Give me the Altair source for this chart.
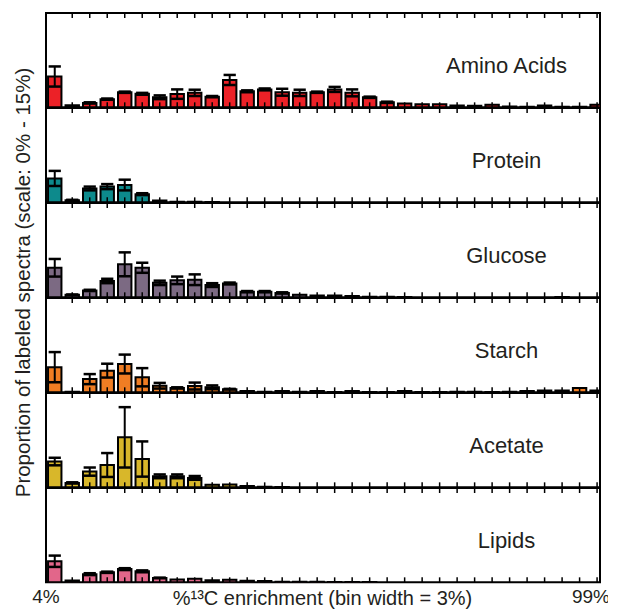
import altair as alt
import pandas as pd

# ---------------- data ----------------
panel_names = ["Amino Acids", "Protein", "Glucose", "Starch", "Acetate", "Lipids"]
panel_colors = ["#ec2127", "#0d8a8c", "#7c6a83", "#f07d23", "#d8b72a", "#e2668a"]

bin_starts = list(range(4, 100, 3))  # 32 bins of 3 %: 4-7 ... 97-100

amino_mean = [4.9, 0.35, 0.7, 1.3, 2.4, 2.15, 1.6, 2.1, 2.3, 1.7, 4.35, 2.55, 2.85, 2.4, 2.3, 2.4,
              2.85, 2.3, 1.6, 0.8, 0.6, 0.5, 0.5, 0.3, 0.25, 0.4, 0.15, 0.1, 0.3, 0.1, 0.1, 0.4]
amino_err = [1.6, 0.0, 0.1, 0.1, 0.1, 0.15, 0.3, 0.75, 0.5, 0.1, 0.8, 0.15, 0.15, 0.55, 0.5, 0.1,
             0.4, 0.55, 0.1, 0.1, 0, 0, 0, 0, 0, 0, 0, 0, 0, 0, 0, 0]

protein_mean = [3.8, 0.35, 2.2, 2.5, 2.75, 1.3, 0.3, 0.1, 0.1, 0.05, 0, 0, 0, 0, 0, 0,
                0, 0, 0, 0, 0, 0, 0, 0, 0, 0, 0, 0, 0, 0, 0, 0]
protein_err = [1.2, 0.05, 0.3, 0.4, 0.85, 0.15, 0, 0, 0, 0, 0, 0, 0, 0, 0, 0,
               0, 0, 0, 0, 0, 0, 0, 0, 0, 0, 0, 0, 0, 0, 0, 0]

glucose_mean = [4.7, 0.4, 1.1, 2.6, 5.25, 4.7, 2.3, 2.7, 2.8, 1.95, 2.2, 0.9, 0.9, 0.7, 0.4, 0.3,
                0.3, 0.2, 0.1, 0.1, 0.05, 0, 0, 0, 0, 0, 0, 0, 0, 0.05, 0, 0]
glucose_err = [1.4, 0.05, 0.1, 0.35, 1.9, 0.8, 0.35, 0.6, 0.85, 0.3, 0.15, 0.1, 0.1, 0.1, 0, 0,
               0, 0, 0, 0, 0, 0, 0, 0, 0, 0, 0, 0, 0, 0, 0, 0]

starch_mean = [4.0, 0.1, 2.1, 3.45, 4.5, 2.4, 1.05, 0.7, 1.0, 0.8, 0.5, 0.2, 0.1, 0.2, 0.1, 0.2,
               0.05, 0.2, 0.05, 0.05, 0.2, 0.05, 0.05, 0.1, 0.1, 0.05, 0.1, 0.2, 0.3, 0.3, 0.7, 0.3]
starch_err = [2.4, 0, 0.8, 1.1, 1.5, 1.45, 0.45, 0.1, 0.55, 0.3, 0.05, 0, 0, 0, 0, 0,
              0, 0, 0, 0, 0, 0, 0, 0, 0, 0, 0, 0, 0, 0, 0, 0]

acetate_mean = [4.1, 0.7, 2.5, 3.55, 7.95, 4.5, 1.75, 1.75, 1.5, 0.4, 0.45, 0.2, 0.1, 0.05, 0, 0,
                0, 0, 0, 0, 0, 0, 0, 0, 0, 0, 0, 0, 0, 0, 0, 0]
acetate_err = [0.6, 0.1, 0.65, 1.9, 4.8, 2.8, 0.3, 0.3, 0.3, 0, 0, 0, 0, 0, 0, 0,
               0, 0, 0, 0, 0, 0, 0, 0, 0, 0, 0, 0, 0, 0, 0, 0]

lipids_mean = [3.35, 0.3, 1.3, 1.6, 2.1, 1.75, 0.7, 0.45, 0.55, 0.35, 0.4, 0.25, 0.2, 0.1, 0.1, 0.1,
               0.05, 0.05, 0.05, 0, 0, 0, 0, 0, 0, 0, 0, 0, 0, 0, 0, 0]
lipids_err = [0.9, 0, 0.15, 0.1, 0.15, 0.15, 0.05, 0, 0, 0, 0, 0, 0, 0, 0, 0,
              0, 0, 0, 0, 0, 0, 0, 0, 0, 0, 0, 0, 0, 0, 0, 0]

means = [amino_mean, protein_mean, glucose_mean, starch_mean, acetate_mean, lipids_mean]
errs = [amino_err, protein_err, glucose_err, starch_err, acetate_err, lipids_err]

x_domain = [4, 99]
y_domain = [0, 15]
edge_labels = ["4%", "99%"]
x_title = "%\u00b9\u00b3C enrichment (bin width = 3%)"
y_title = "Proportion of labeled spectra (scale: 0% - 15%)"

# ---------------- layout ----------------
W = 554
H = 94.33
FONT = "Liberation Sans"

xs = alt.Scale(domain=x_domain, nice=False, zero=False)
ys = alt.Scale(domain=y_domain, nice=False, zero=True)

tick_df = pd.DataFrame({"pos": [s + 1.5 for s in bin_starts[1:]]})


def panel(i):
    name = panel_names[i]
    df = pd.DataFrame({"start": bin_starts, "mean": means[i], "err": errs[i]})
    df["center"] = df["start"] + 1.5
    df["x0"] = df["start"] + 0.35
    df["x1"] = df["start"] + 2.65
    df["base"] = 0.0
    df["lo"] = df["mean"] - df["err"]
    df["hi"] = df["mean"] + df["err"]
    df["capL"] = df["center"] - 1.05
    df["capR"] = df["center"] + 1.05
    bars_df = df[df["mean"] > 0]
    err_df = df[df["err"] > 0]

    bars = alt.Chart(bars_df).mark_bar(
        color=panel_colors[i], stroke="black", strokeWidth=2, clip=True
    ).encode(
        x=alt.X("x0:Q", scale=xs, axis=None),
        x2="x1:Q",
        y=alt.Y("mean:Q", scale=ys, axis=None),
        y2="base:Q",
    )
    vline = alt.Chart(err_df).mark_rule(color="black", strokeWidth=2).encode(
        x=alt.X("center:Q", scale=xs, axis=None),
        y=alt.Y("lo:Q", scale=ys, axis=None),
        y2="hi:Q",
    )
    cap_top = alt.Chart(err_df).mark_rule(color="black", strokeWidth=2.5).encode(
        x=alt.X("capL:Q", scale=xs, axis=None), x2="capR:Q",
        y=alt.Y("hi:Q", scale=ys, axis=None),
    )
    cap_bot = alt.Chart(err_df).mark_rule(color="black", strokeWidth=2.5).encode(
        x=alt.X("capL:Q", scale=xs, axis=None), x2="capR:Q",
        y=alt.Y("lo:Q", scale=ys, axis=None),
    )
    ticks_top = alt.Chart(tick_df).mark_rule(color="black", strokeWidth=1.5).encode(
        x=alt.X("pos:Q", scale=xs, axis=None), y=alt.value(0), y2=alt.value(5)
    )
    ticks_bot = alt.Chart(tick_df).mark_rule(color="black", strokeWidth=1.5).encode(
        x=alt.X("pos:Q", scale=xs, axis=None), y=alt.value(H - 5), y2=alt.value(H)
    )
    label = alt.Chart(pd.DataFrame({"t": [name]})).mark_text(
        font=FONT, fontSize=22, color="#231f20", align="center", baseline="alphabetic"
    ).encode(x=alt.value(460.5), y=alt.value(60), text="t:N")

    layers = [bars, vline, cap_top, cap_bot, ticks_top, ticks_bot, label]

    if i == 0:
        ytitle = alt.Chart(pd.DataFrame({"t": [y_title]})).mark_text(
            font=FONT, fontSize=20.5, color="#231f20", angle=270,
            align="center", baseline="alphabetic"
        ).encode(x=alt.value(-16), y=alt.value(269.5), text="t:N")
        layers.append(ytitle)
    if i == len(panel_names) - 1:
        lab_df = pd.DataFrame({"pos": x_domain, "t": edge_labels})
        edge_l = alt.Chart(lab_df.iloc[[0]]).mark_text(
            font=FONT, fontSize=19, color="#231f20", align="center", baseline="alphabetic"
        ).encode(x=alt.X("pos:Q", scale=xs, axis=None), y=alt.value(H + 21), text="t:N")
        edge_r = alt.Chart(lab_df.iloc[[1]]).mark_text(
            font=FONT, fontSize=19, color="#231f20", align="center", baseline="alphabetic",
            dx=-9
        ).encode(x=alt.X("pos:Q", scale=xs, axis=None), y=alt.value(H + 21), text="t:N")
        xt = alt.Chart(pd.DataFrame({"t": [x_title]})).mark_text(
            font=FONT, fontSize=20, color="#231f20", align="center", baseline="alphabetic"
        ).encode(x=alt.value(276.5), y=alt.value(H + 23), text="t:N")
        layers += [edge_l, edge_r, xt]

    return alt.layer(*layers).properties(width=W, height=H)


chart = alt.vconcat(*[panel(i) for i in range(6)], spacing=0, bounds="flush").properties(
    padding={"left": 4, "top": 3, "right": -4, "bottom": 0}
).configure_view(stroke="black", strokeWidth=2)

chart.save("out.html", embed_options={"renderer": "svg", "actions": False})
